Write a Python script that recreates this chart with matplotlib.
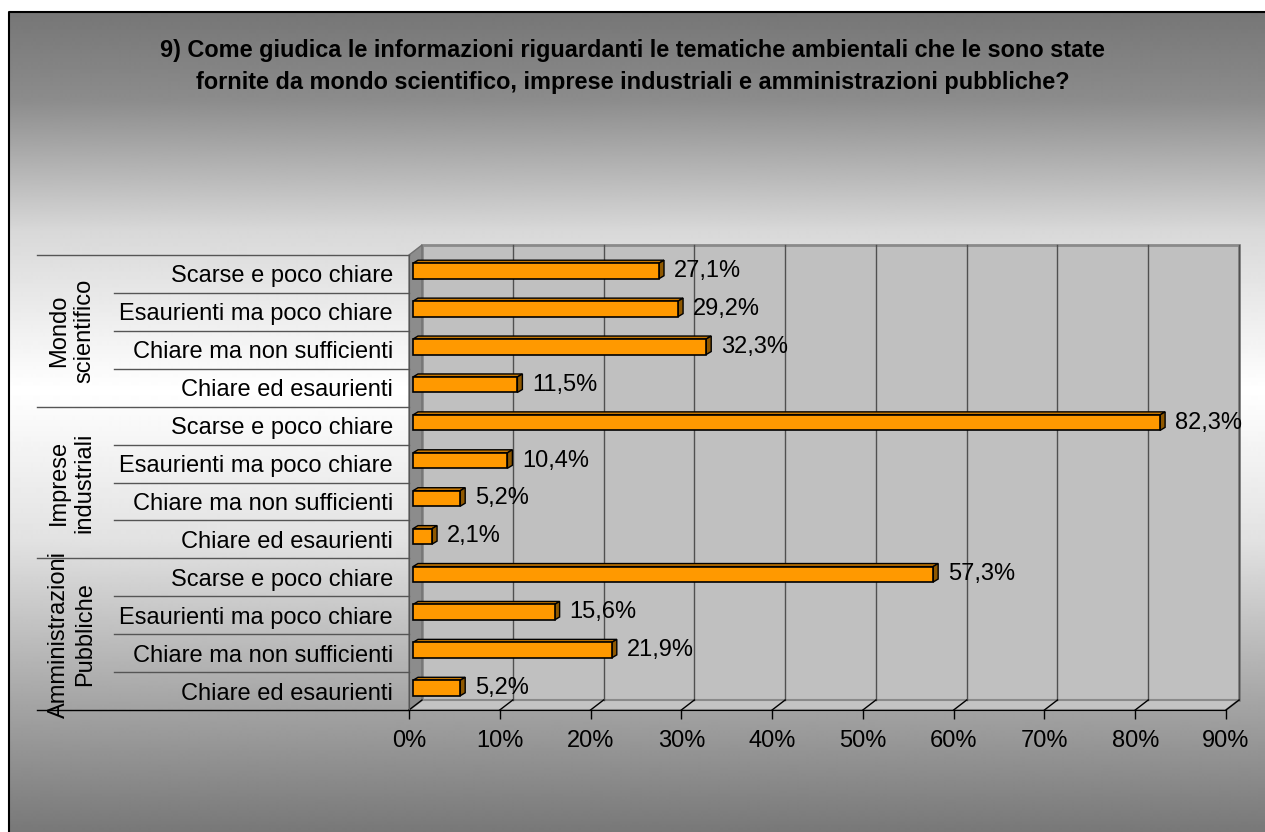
import numpy as np
import matplotlib.pyplot as plt
from matplotlib.patches import Polygon, Rectangle

plt.rcParams['font.family'] = ['Liberation Sans', 'DejaVu Sans']

# dati
groups = ['Mondo\nscientifico', 'Imprese\nindustriali', 'Amministrazioni\nPubbliche']
answers = ['Scarse e poco chiare', 'Esaurienti ma poco chiare',
           'Chiare ma non sufficienti', 'Chiare ed esaurienti']
mondo_scientifico = [27.1, 29.2, 32.3, 11.5]
imprese_industriali = [82.3, 10.4, 5.2, 2.1]
amministrazioni_pubbliche = [57.3, 15.6, 21.9, 5.2]
x_ticks = [0, 10, 20, 30, 40, 50, 60, 70, 80, 90]
title = ('9) Come giudica le informazioni riguardanti le tematiche ambientali che le sono state\n'
         'fornite da mondo scientifico, imprese industriali e amministrazioni pubbliche?')

values = mondo_scientifico + imprese_industriali + amministrazioni_pubbliche
labels = answers * len(groups)
n = len(values)

W, H = 1265, 832
fig = plt.figure(figsize=(W / 100, H / 100), dpi=100)

# sfondo sfumato con cornice
bg = fig.add_axes([0, 0, 1, 1], zorder=0)
bg.set_xlim(0, W)
bg.set_ylim(H, 0)
bg.axis('off')
stops_y = [11, 100, 230, 390, 540, 700, 832]
stops_v = [0x76, 0x8c, 0xd8, 0xff, 0xe2, 0xa6, 0x78]
rows = np.interp(np.arange(11, H), stops_y, stops_v) / 255.0
grad = np.repeat(rows[:, None], 2, axis=1)
bg.imshow(grad, cmap='gray', vmin=0, vmax=1, aspect='auto',
          extent=[8.5, W, H, 11.5], interpolation='bilinear')
bg.plot([8.5, 8.5, W], [H, 11.5, 11.5], color='black', lw=1.5)

# area del grafico (piano frontale)
x0, x1, y0, y1 = 409, 1226, 255, 710
ax = fig.add_axes([x0 / W, 1 - y1 / H, (x1 - x0) / W, (y1 - y0) / H], zorder=1)
ax.patch.set_visible(False)
ax.set_xlim(0, 90)
ax.set_ylim(n, 0)
ux = (x1 - x0) / 90.0
uy = (y1 - y0) / float(n)

# profondita' 3D (pixel -> unita' dati)
dbx, dby = 13 / ux, -10 / uy      # parete di fondo
mbx, mby = 4 / ux, -3 / uy        # piano delle barre
ddx, ddy = 5 / ux, -3 / uy        # spessore barre

ax.add_patch(Rectangle((dbx, dby), 90, n, facecolor='#c0c0c0', edgecolor='#8a8a8a',
                       lw=2, zorder=1, clip_on=False))
ax.add_patch(Polygon([(0, 0), (dbx, dby), (dbx, n + dby), (0, n)], closed=True,
                     facecolor='#8c8c8c', edgecolor='#707070', lw=1, zorder=1, clip_on=False))
ax.add_patch(Polygon([(0, n), (90, n), (90 + dbx, n + dby), (dbx, n + dby)], closed=True,
                     facecolor='#c4c4c4', edgecolor='#8a8a8a', lw=1.5, zorder=1, clip_on=False))
for t in x_ticks[1:]:
    ax.plot([t + dbx, t + dbx], [dby, n + dby], color='#505050', lw=1, zorder=2, clip_on=False)
for t in x_ticks:
    ax.plot([t, t + dbx], [n, n + dby], color='black', lw=1, zorder=2, clip_on=False)

# barre 3D
h = 15.5 / uy
for i, v in enumerate(values):
    yc = i + 0.5 + mby
    top, bot = yc - h / 2, yc + h / 2
    xa, xb = mbx, mbx + v
    ax.add_patch(Polygon([(xa, top), (xb, top), (xb + ddx, top + ddy), (xa + ddx, top + ddy)],
                         closed=True, facecolor='#c77700', edgecolor='black', lw=1, zorder=3))
    ax.add_patch(Polygon([(xb, top), (xb + ddx, top + ddy), (xb + ddx, bot + ddy), (xb, bot)],
                         closed=True, facecolor='#8f5800', edgecolor='black', lw=1, zorder=3))
    ax.add_patch(Rectangle((xa, top), v, h, facecolor='#ff9900', edgecolor='black',
                           lw=1.2, zorder=4))
    ax.annotate(('%.1f%%' % v).replace('.', ','), xy=(xb + ddx, yc), xytext=(7, 0),
                textcoords='offset points', ha='left', va='center', fontsize=17,
                color='black', zorder=5, annotation_clip=False)

# separatori delle categorie
xg = -(x0 - 37) / ux
xc = -(x0 - 114) / ux
for k in range(n + 1):
    if k % len(answers) == 0:
        ax.plot([xg, 0], [k, k], color='black' if k == n else '#555555', lw=1,
                zorder=2, clip_on=False)
    else:
        ax.plot([xc, 0], [k, k], color='#555555', lw=1, zorder=2, clip_on=False)

for g, name in enumerate(groups):
    ax.text(-(x0 - 72) / ux, g * len(answers) + len(answers) / 2, name, rotation=90,
            ha='center', va='center', multialignment='center', fontsize=17, zorder=5)

# assi
ax.set_xticks(x_ticks)
ax.set_xticklabels(['%d%%' % t for t in x_ticks], fontsize=17)
ax.tick_params(axis='x', direction='out', length=6.5, width=1, color='black', pad=8)
ax.set_yticks(np.arange(n) + 0.5)
ax.set_yticklabels(labels, fontsize=17)
ax.tick_params(axis='y', length=0, pad=11.5)
for s in ['top', 'right']:
    ax.spines[s].set_visible(False)
ax.spines['bottom'].set_zorder(6)
ax.spines['bottom'].set_bounds(0, 90)
ax.spines['left'].set_color('#555555')

fig.text(0.5, 1 - 39 / H, title, ha='center', va='top', fontsize=16.9,
         fontweight='bold', linespacing=1.5)

fig.savefig('out.png', dpi=100)
